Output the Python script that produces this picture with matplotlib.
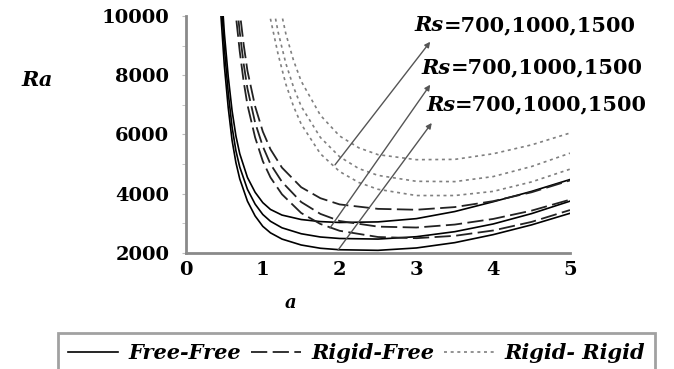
import matplotlib
matplotlib.use('Agg')
import matplotlib.pyplot as plt
from matplotlib.lines import Line2D
from matplotlib.ticker import MultipleLocator

# wave number a and Rayleigh number Ra
a_ff = [0.4, 0.45, 0.5, 0.55, 0.6, 0.65, 0.7, 0.8, 0.9, 1.0, 1.1, 1.25, 1.5, 1.75,
        2.0, 2.5, 3.0, 3.5, 4.0, 4.5, 5.0]
ra_ff700 = [12500, 10200, 8300, 6900, 5800, 5050, 4500, 3750, 3250, 2900, 2680, 2470,
            2270, 2160, 2110, 2090, 2170, 2350, 2620, 2950, 3340]
ra_ff1000 = [13200, 10800, 8900, 7400, 6250, 5450, 4900, 4150, 3650, 3300, 3070, 2850,
             2650, 2540, 2490, 2470, 2550, 2720, 2980, 3330, 3750]
ra_ff1500 = [13800, 11300, 9400, 7950, 6800, 5950, 5350, 4550, 4050, 3700, 3470, 3280,
             3130, 3060, 3030, 3050, 3160, 3400, 3730, 4080, 4480]

a_rf = [0.6, 0.65, 0.7, 0.75, 0.8, 0.9, 1.0, 1.1, 1.25, 1.5, 1.75, 2.0, 2.5, 3.0,
        3.5, 4.0, 4.5, 5.0]
ra_rf700 = [11500, 10000, 8800, 7800, 7000, 5900, 5100, 4550, 3980, 3350, 2980, 2750,
            2540, 2500, 2580, 2760, 3050, 3450]
ra_rf1000 = [12300, 10700, 9450, 8400, 7550, 6400, 5600, 5000, 4400, 3720, 3320, 3080,
             2890, 2860, 2960, 3150, 3430, 3800]
ra_rf1500 = [13200, 11500, 10150, 9050, 8150, 6950, 6100, 5500, 4880, 4220, 3850, 3640,
             3490, 3460, 3550, 3750, 4050, 4450]

a_rr = [1.0, 1.1, 1.2, 1.3, 1.4, 1.5, 1.75, 2.0, 2.25, 2.5, 3.0, 3.5, 4.0, 4.5, 5.0]
ra_rr700 = [11500, 9900, 8700, 7700, 6950, 6350, 5350, 4750, 4380, 4150, 3940, 3940,
            4080, 4400, 4830]
ra_rr1000 = [12500, 10800, 9450, 8400, 7600, 6950, 5900, 5250, 4850, 4620, 4420, 4410,
             4580, 4920, 5370]
ra_rr1500 = [14000, 12100, 10600, 9400, 8500, 7800, 6650, 5950, 5550, 5320, 5150, 5160,
             5350, 5650, 6050]

rs_label = '=700,1000,1500'
# (tail a, tail Ra, tip a, tip Ra, label a, label Ra)
arrows = [(1.94, 4975, 3.18, 9130, 2.98, 9700),
          (1.875, 2845, 3.18, 7680, 3.07, 8250),
          (1.98, 2100, 3.2, 6390, 3.125, 7000)]

serif = 'DejaVu Serif'
solid = dict(color='black', lw=1.2, ls='-')
dashed = dict(color='#222222', lw=1.3, ls=(0, (9, 3)))
dotted = dict(color='#808080', lw=1.2, ls=(0, (1.8, 2.2)))

fig = plt.figure(figsize=(6.74, 3.69), dpi=100)
ax = fig.add_axes([186/674, 1-253/369, 384/674, 237/369])

for ra in (ra_ff700, ra_ff1000, ra_ff1500):
    ax.plot(a_ff, ra, **solid)
for ra in (ra_rf700, ra_rf1000, ra_rf1500):
    ax.plot(a_rf, ra, **dashed)
for ra in (ra_rr700, ra_rr1000, ra_rr1500):
    ax.plot(a_rr, ra, **dotted)

ax.set_xlim(0, 5)
ax.set_ylim(2000, 10000)
ax.set_xticks([0, 1, 2, 3, 4, 5])
ax.set_yticks([2000, 4000, 6000, 8000, 10000])
ax.yaxis.set_minor_locator(MultipleLocator(1000))

for s in ('top', 'right'):
    ax.spines[s].set_visible(False)
for s in ('left', 'bottom'):
    ax.spines[s].set_color('#8a8a8a')
    ax.spines[s].set_linewidth(2)

ax.tick_params(axis='y', which='both', length=3, color='#bbbbbb', pad=9)
ax.tick_params(axis='x', length=0, pad=6)
for lab in ax.get_xticklabels() + ax.get_yticklabels():
    lab.set_fontfamily(serif)
    lab.set_fontweight('bold')
    lab.set_fontsize(14)

for x0, y0, x1, y1, lx, ly in arrows:
    ax.annotate('', xy=(x1, y1), xytext=(x0, y0),
                arrowprops=dict(arrowstyle='-|>', color='#555555', lw=1,
                                mutation_scale=8, shrinkA=0, shrinkB=0),
                annotation_clip=False)
    t = ax.text(lx, ly, 'Rs', family=serif, fontweight='bold', style='italic',
                fontsize=15, va='center', ha='left', clip_on=False)
    ax.annotate(rs_label, xy=(1, 0), xycoords=t, va='bottom', ha='left',
                family=serif, fontweight='bold', fontsize=15)

fig.text(37/674, 1-80/369, 'Ra', family=serif, fontweight='bold', style='italic',
         fontsize=15, ha='center', va='center')
fig.text(291/674, 1-303/369, 'a', family=serif, fontweight='bold', style='italic',
         fontsize=13, ha='center', va='center')

handles = [Line2D([], [], **solid), Line2D([], [], **dashed), Line2D([], [], **dotted)]
leg = fig.legend(handles, ['Free-Free', 'Rigid-Free', 'Rigid- Rigid'], ncol=3,
                 loc='upper left', bbox_to_anchor=(58/674, 1-333/369),
                 frameon=True, fancybox=False, handlelength=2.4, handletextpad=0.5,
                 columnspacing=0.45, borderpad=0.5, borderaxespad=0,
                 prop={'family': serif, 'weight': 'bold', 'style': 'italic', 'size': 15})
leg.get_frame().set_edgecolor('#8a8a8a')
leg.get_frame().set_linewidth(2)

fig.savefig('out.png', dpi=100)
